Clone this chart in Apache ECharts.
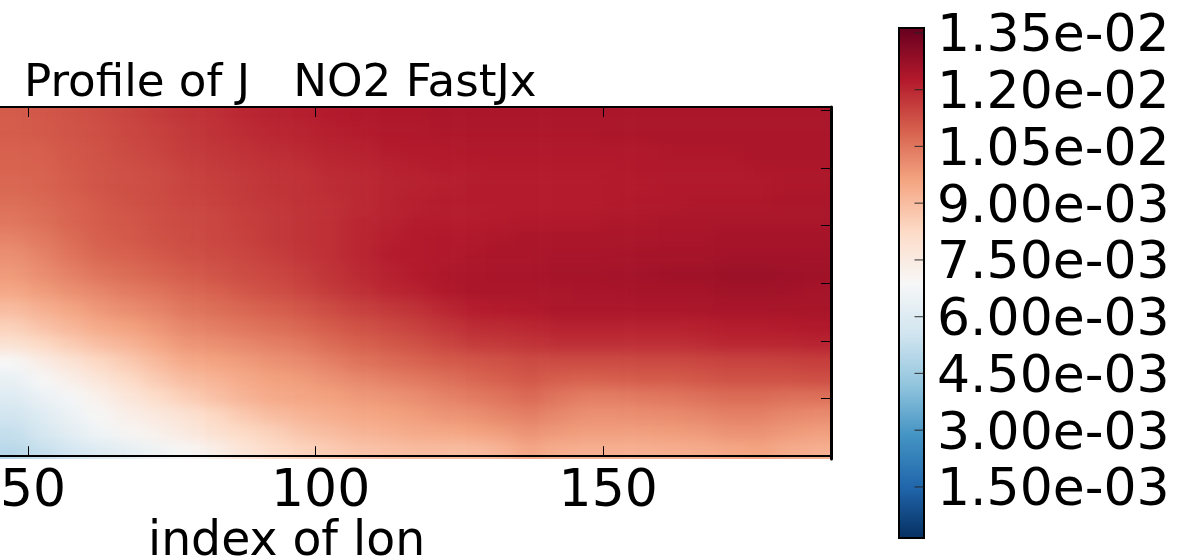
<!DOCTYPE html>
<html><head><meta charset="utf-8">
<style>html,body{margin:0;padding:0;background:#fff;overflow:hidden;width:1185px;height:558px}
#c{position:absolute;left:-40px;top:0;width:1225px;height:558px}
canvas[data-zr-dom-id="zr_-1"]{filter:url(#soft)}</style>
<script src="https://cdn.jsdelivr.net/npm/echarts@6/dist/echarts.min.js"></script>
</head><body>
<svg width="0" height="0" style="position:absolute"><filter id="soft" x="0" y="0" width="100%" height="100%" color-interpolation-filters="sRGB"><feGaussianBlur stdDeviation="10 6"/></filter></svg>
<div id="c"></div>
<script>
// values in units of 1e-3, rows from top to bottom, columns left to right
const titleText = 'Profile of J   NO2 FastJx';
const xName = 'index of lon';
const xTicks = [50, 100, 150];
const yTicks = [0, 10, 20, 30, 40, 50, 60];
const barTicks = [1.5, 3, 4.5, 6, 7.5, 9, 10.5, 12, 13.5];
const barLabels = ['1.50e-03','3.00e-03','4.50e-03','6.00e-03','7.50e-03','9.00e-03','1.05e-02','1.20e-02','1.35e-02'];
const colours = ['#053061','#2166ac','#4393c3','#92c5de','#d1e5f0','#f7f7f7','#fddbc7','#f4a582','#d6604d','#b2182b','#67001f'];
const lonCells = [47,52,57,62,67,72,77,82,87,92,97,102,107,112,117,122,127,132,137,142,147,152,157,162,167,172,177,182,187];
const levCells = [60,57,54,51,48,45,42,39,36,33,30,27,24,21,18,15,12,9,6,3];
const J = [
[11.0,11.1,11.2,11.3,11.45,11.6,11.75,11.85,12.0,12.1,12.15,12.25,12.3,12.35,12.35,12.4,12.4,12.4,12.4,12.4,12.4,12.4,12.4,12.4,12.4,12.4,12.4,12.4,12.4],
[11.0,11.05,11.15,11.25,11.4,11.5,11.65,11.8,11.9,12.0,12.05,12.15,12.2,12.3,12.3,12.35,12.35,12.35,12.35,12.35,12.35,12.4,12.4,12.4,12.4,12.4,12.4,12.4,12.4],
[10.9,10.95,11.1,11.2,11.35,11.45,11.6,11.7,11.8,11.9,11.95,12.05,12.1,12.2,12.25,12.25,12.3,12.3,12.3,12.3,12.3,12.3,12.3,12.35,12.35,12.35,12.4,12.4,12.4],
[10.85,10.9,11.05,11.15,11.25,11.35,11.5,11.6,11.7,11.8,11.85,11.95,12.0,12.1,12.15,12.2,12.2,12.25,12.25,12.25,12.25,12.25,12.3,12.3,12.3,12.3,12.35,12.35,12.35],
[10.8,10.85,11.0,11.15,11.25,11.3,11.45,11.55,11.65,11.75,11.8,11.9,11.95,12.05,12.1,12.15,12.2,12.2,12.2,12.2,12.2,12.25,12.25,12.3,12.3,12.3,12.3,12.35,12.35],
[10.65,10.75,10.9,11.05,11.2,11.3,11.4,11.5,11.6,11.7,11.8,11.85,11.95,12.05,12.15,12.2,12.2,12.2,12.2,12.2,12.2,12.25,12.3,12.3,12.35,12.35,12.35,12.4,12.4],
[10.5,10.65,10.85,11.0,11.1,11.25,11.35,11.4,11.55,11.65,11.75,11.85,12.0,12.1,12.2,12.2,12.2,12.25,12.3,12.3,12.3,12.35,12.35,12.4,12.4,12.42,12.42,12.42,12.42],
[10.25,10.45,10.7,10.95,11.05,11.2,11.3,11.4,11.5,11.65,11.75,11.85,12.0,12.15,12.25,12.3,12.3,12.35,12.4,12.4,12.4,12.42,12.42,12.45,12.45,12.5,12.5,12.5,12.5],
[10.0,10.25,10.55,10.8,10.9,11.05,11.2,11.3,11.4,11.55,11.7,11.85,12.0,12.2,12.25,12.3,12.35,12.4,12.4,12.45,12.45,12.45,12.5,12.5,12.5,12.55,12.55,12.55,12.55],
[9.8,10.05,10.3,10.55,10.7,10.85,11.0,11.15,11.3,11.4,11.55,11.75,11.95,12.1,12.25,12.35,12.4,12.45,12.45,12.5,12.5,12.55,12.55,12.6,12.6,12.7,12.7,12.65,12.6],
[9.5,9.75,10.0,10.2,10.4,10.55,10.75,10.9,11.1,11.25,11.4,11.6,11.8,12.0,12.1,12.3,12.4,12.4,12.4,12.42,12.45,12.45,12.5,12.5,12.5,12.58,12.58,12.55,12.5],
[9.0,9.3,9.55,9.85,10.05,10.25,10.5,10.65,10.8,10.95,11.1,11.3,11.5,11.65,11.8,12.0,12.2,12.25,12.3,12.4,12.4,12.4,12.4,12.4,12.42,12.45,12.45,12.47,12.47],
[8.5,8.85,9.15,9.45,9.65,9.9,10.2,10.35,10.5,10.65,10.8,11.0,11.2,11.35,11.5,11.7,11.9,11.95,12.0,12.1,12.1,12.1,12.1,12.1,12.15,12.2,12.2,12.25,12.3],
[7.9,8.25,8.6,8.95,9.2,9.55,9.85,10.0,10.15,10.3,10.45,10.7,10.9,11.05,11.2,11.4,11.6,11.65,11.75,11.85,11.85,11.85,11.85,11.85,11.9,12.0,12.0,12.0,12.05],
[6.9,7.4,7.85,8.3,8.65,9.05,9.45,9.6,9.75,9.95,10.1,10.3,10.55,10.7,10.85,11.0,11.1,11.2,11.3,11.3,11.3,11.3,11.35,11.35,11.4,11.45,11.45,11.5,11.55],
[6.4,6.9,7.3,7.75,8.2,8.65,9.0,9.2,9.45,9.65,9.75,9.95,10.15,10.3,10.45,10.6,10.8,10.95,11.1,10.95,10.9,10.95,11.0,11.0,11.1,11.2,11.2,11.2,11.25],
[6.0,6.45,6.8,7.25,7.7,8.15,8.55,8.9,9.2,9.45,9.55,9.65,9.8,9.9,10.05,10.25,10.4,10.55,10.75,10.5,10.35,10.35,10.45,10.5,10.6,10.7,10.7,10.6,10.6],
[5.6,6.05,6.5,6.95,7.3,7.6,7.9,8.3,8.7,9.0,9.2,9.35,9.5,9.6,9.75,9.9,10.0,10.2,10.35,10.15,10.0,10.0,10.05,10.1,10.2,10.3,10.3,10.15,10.1],
[5.3,5.75,6.2,6.65,7.0,7.25,7.55,7.95,8.25,8.5,8.8,9.0,9.2,9.3,9.45,9.5,9.6,9.75,9.95,9.8,9.7,9.7,9.7,9.75,9.8,9.95,9.95,9.8,9.7],
[5.0,5.35,5.7,6.0,6.3,6.6,6.95,7.3,7.75,8.15,8.4,8.6,8.8,8.9,9.0,9.0,9.0,9.2,9.55,9.35,9.3,9.3,9.3,9.35,9.4,9.5,9.6,9.4,9.3]
];
// the picture runs past the frame by one repeated edge cell, hidden under the white surround, so the soft edge stays out of view
const cells = [];
const nc = lonCells.length, nr = levCells.length;
for (let r = -1; r <= nr; r++) for (let c = -1; c <= nc; c++) {
  const rr = Math.min(nr - 1, Math.max(0, r)), cc = Math.min(nc - 1, Math.max(0, c));
  cells.push([c + 1, r + 1, J[rr][cc]]);
}
const font = 'DejaVu Sans';
const off = 40, cw = 831 / nc, ch = 352 / nr;
const line = {show:true, lineStyle:{color:'#000', width:2}};
const chart = echarts.init(document.getElementById('c'), null, {renderer:'canvas'});
chart.setOption({
  animation:false, backgroundColor:'transparent',
  title:[
    {text:titleText, left:off+24, top:62, padding:0, textStyle:{fontFamily:font, fontWeight:'normal', fontSize:45.2, color:'#000'}},
    {text:xName, left:off+148, top:519, padding:0, textStyle:{fontFamily:font, fontWeight:'normal', fontSize:47.3, color:'#000'}}
  ],
  graphic:[
    {type:'rect', z:1, shape:{x:0, y:0, width:1225, height:107}, style:{fill:'#fff'}},
    {type:'rect', z:1, shape:{x:0, y:459, width:1225, height:100}, style:{fill:'#fff'}},
    {type:'rect', z:1, shape:{x:off+831, y:0, width:354, height:558}, style:{fill:'#fff'}}
  ],
  grid:[
    {left:off-cw, top:107-ch, width:831+2*cw, height:352+2*ch, show:false},
    {left:0, top:107, width:off+831, height:352, show:false},
    {left:off+899, top:28, width:25, height:510, show:true, borderColor:'#000', borderWidth:2, backgroundColor:'transparent', z:10},
    {left:off+899, top:33, width:25, height:510, show:false},
    {left:5, top:107, width:off+831, height:352, show:false}
  ],
  xAxis:[
    {type:'category', gridIndex:0, data:['',...lonCells,''], show:false},
    {type:'value', gridIndex:1, position:'bottom', min:38.17, max:189.6, splitLine:{show:false}, axisLine:line,
      axisTick:{inside:true, length:10, customValues:xTicks, lineStyle:{color:'#000', width:1}},
      axisLabel:{show:false}, z:10},
    {type:'value', gridIndex:1, position:'top', min:38.17, max:189.6, splitLine:{show:false}, axisLine:line,
      axisTick:{inside:true, length:10, customValues:xTicks, lineStyle:{color:'#000', width:1}},
      axisLabel:{show:false}, z:10},
    {type:'value', gridIndex:2, min:0, max:25, show:false},
    {type:'value', gridIndex:3, min:0, max:1, show:false},
    {type:'value', gridIndex:4, position:'bottom', min:38.17, max:189.6, splitLine:{show:false}, axisLine:{show:false}, axisTick:{show:false},
      axisLabel:{customValues:xTicks, margin:7, fontFamily:font, fontSize:52, color:'#000'}, z:10}
  ],
  yAxis:[
    {type:'category', gridIndex:0, data:['',...levCells,''], inverse:true, show:false},
    {type:'value', gridIndex:1, position:'right', min:-0.49, max:60.56, splitLine:{show:false}, axisLine:{show:true, lineStyle:{color:'#000', width:3}},
      axisTick:{inside:true, length:10, customValues:yTicks, lineStyle:{color:'#000', width:1}},
      axisLabel:{show:false}, z:10},
    {type:'value', gridIndex:2, position:'right', min:0.15, max:13.63, splitLine:{show:false}, axisLine:{show:false}, axisTick:{show:false},
      axisLabel:{show:false}, z:10},
    {type:'value', gridIndex:3, position:'right', min:0.15, max:13.63, splitLine:{show:false}, axisLine:{show:false}, axisTick:{show:false},
      axisLabel:{customValues:barTicks, margin:13, fontFamily:font, fontSize:52, color:'#000',
        formatter:v => barLabels[barTicks.indexOf(v)]}, z:10},
    {type:'value', gridIndex:4, min:0, max:1, show:false}
  ],
  visualMap:{type:'continuous', seriesIndex:0, min:0.15, max:13.63, left:off+899, top:28, padding:0, itemWidth:25, itemHeight:510, z:2,
    calculable:false, text:null, showLabel:false, inRange:{color:colours}, textStyle:{fontSize:0}, hoverLink:false},
  series:[
    {type:'heatmap', zlevel:-1, xAxisIndex:0, yAxisIndex:0, data:cells, progressive:0, itemStyle:{borderWidth:0}, emphasis:{disabled:true}},
    {type:'scatter', zlevel:1, xAxisIndex:3, yAxisIndex:2, silent:true, symbol:'rect', symbolSize:[9,1.2], itemStyle:{color:'#222'}, data:barTicks.map(v => [20, v])}
  ]
});
</script></body></html>
